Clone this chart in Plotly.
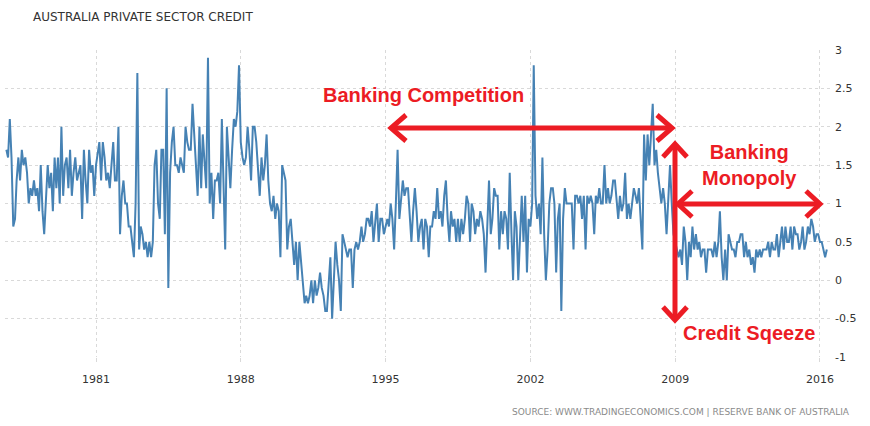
import pandas as pd
import plotly.graph_objects as go

# Monthly private sector credit growth (%)
credit_1976_1985 = [
    1.7, 1.6, 2.1, 1.6,
    0.7, 0.8, 1.3, 1.6, 1.3, 1.7, 1.5, 1.6, 1.4, 1.0, 1.2, 1.1,
    1.3, 1.1, 1.2, 0.9, 1.5, 0.9, 0.6, 1.0, 1.5, 1.2, 1.4, 0.9,
    1.6, 1.2, 1.6, 1.0, 2.0, 1.1, 1.5, 1.6, 1.2, 1.7, 1.1, 1.4,
    1.6, 1.3, 1.4, 1.5, 0.8, 1.7, 1.3, 1.0, 1.7, 1.4, 1.5, 1.1,
    1.5, 1.7, 1.8, 1.3, 1.8, 1.6, 1.3, 1.4, 1.2, 1.5, 1.8, 1.3,
    1.3, 2.0, 0.6, 1.1, 1.3, 1.0, 1.0, 0.7, 0.7, 0.5, 0.3, 1.0,
    2.7, 0.4, 0.7, 0.6, 0.4, 0.5, 0.3, 0.5, 0.3, 0.5, 1.5, 1.7,
    1.0, 0.8, 1.7, 1.7, 0.6, 2.5, -0.1, 1.4, 1.8, 2.0, 1.5, 1.5,
    1.4, 1.6, 1.5, 1.4, 2.0, 1.8, 1.7, 1.7, 2.3, 1.9, 1.5, 1.1,
]
credit_1986_1995 = [
    2.0, 1.2, 1.9, 1.5, 1.2, 2.9, 1.0, 1.4, 0.8, 1.3, 1.3, 1.4,
    1.0, 2.1, 1.2, 0.4, 2.0, 1.6, 1.2, 1.7, 2.1, 2.0, 2.2, 2.8,
    1.8, 1.6, 1.5, 1.6, 2.0, 1.7, 1.3, 2.0, 2.0, 1.8, 1.5, 1.1,
    1.6, 1.3, 1.5, 1.9, 1.3, 1.0, 0.9, 1.1, 0.8, 1.0, 0.9, 0.3,
    1.5, 1.4, 1.3, 0.4, 0.7, 0.8, 0.5, 0.2, 0.5, 0.0, 0.5, 0.2,
    -0.1, -0.3, -0.2, -0.3, -0.2, 0.0, -0.3, 0.0, -0.2, -0.1, 0.1, -0.1,
    -0.2, -0.4, -0.4, -0.1, 0.3, -0.5, 0.1, 0.5, 0.2, 0.0, -0.4, 0.6,
    0.5, 0.4, 0.3, 0.4, 0.4, -0.1, 0.4, 0.5, 0.4, 0.5, 0.7, 0.5,
    0.6, 0.8, 0.8, 0.7, 0.9, 0.5, 0.8, 1.0, 0.5, 0.8, 0.8, 0.6,
    0.7, 0.8, 0.7, 1.0, 0.8, 0.4, 1.0, 1.7, 0.8, 1.1, 1.3, 1.1,
]
credit_1996_2005 = [
    1.2, 1.2, 0.9, 0.5, 0.9, 1.2, 0.9, 0.5, 0.7, 0.8, 0.4, 0.8,
    0.7, 0.3, 0.7, 0.7, 0.9, 0.8, 1.2, 0.8, 0.9, 0.7, 1.1, 1.3,
    0.8, 0.5, 0.9, 0.7, 0.8, 0.5, 0.8, 0.5, 0.8, 0.6, 0.8, 1.1,
    1.0, 0.5, 1.0, 0.9, 0.6, 0.8, 0.7, 0.9, 0.8, 0.6, 0.1, 0.8,
    1.3, 0.6, 0.8, 1.2, 1.1, 1.1, 0.4, 0.9, 0.6, 0.9, 0.8, 0.4,
    1.4, 0.6, 0.0, 0.9, 0.7, 0.0, 0.6, 1.1, 0.5, 1.1, 0.1, 0.8,
    0.7, 1.0, 2.8, 1.1, 0.8, 1.0, 0.6, 1.6, 0.6, 0.0, 0.4, 1.0,
    1.2, 1.2, 1.0, 0.1, 0.8, 1.0, -0.4, 0.8, 1.2, 1.0, 1.0, 1.0,
    1.0, 0.4, 1.1, 1.1, 1.0, 1.1, 0.8, 1.1, 0.4, 1.1, 1.0, 1.1,
    1.0, 0.6, 1.1, 1.0, 1.2, 1.0, 1.0, 1.5, 1.0, 1.2, 1.0, 1.1,
]
credit_2006_2016 = [
    1.3, 1.3, 1.1, 0.8, 1.1, 0.9, 1.0, 1.4, 0.8, 1.0, 0.8, 1.0,
    1.2, 1.1, 1.0, 1.2, 0.8, 0.4, 1.9, 1.3, 1.9, 1.5, 1.9, 2.3,
    1.5, 1.7, 1.4, 1.2, 1.0, 1.2, 1.0, 0.6, 1.0, 1.5, 1.0, 0.6,
    0.5, 0.4, 0.3, 0.4, 0.2, 0.7, 0.5, 0.0, 0.5, 0.3, 0.7, 0.4,
    0.6, 0.4, 0.5, 0.3, 0.4, 0.4, 0.1, 0.4, 0.4, 0.4, 0.3, 0.5,
    0.3, 0.5, 0.9, 0.3, 0.0, 0.4, 0.0, 0.6, 0.5, 0.4, 0.4, 0.3,
    0.5, 0.5, 0.6, 0.6, 0.3, 0.5, 0.3, 0.4, 0.2, 0.3, 0.1, 0.4,
    0.3, 0.4, 0.3, 0.4, 0.4, 0.4, 0.5, 0.3, 0.5, 0.4, 0.4, 0.6,
    0.3, 0.5, 0.7, 0.4, 0.7, 0.5, 0.5, 0.7, 0.4, 0.7, 0.6, 0.6,
    0.4, 0.5, 0.7, 0.4, 0.5, 0.7, 0.6, 0.8, 0.7, 0.5, 0.6, 0.6,
    0.5, 0.5, 0.4, 0.3, 0.4,
]
first_month = "1976-09-01"

x_tick_years = ["1981", "1988", "1995", "2002", "2009", "2016"]
y_tick_vals = [-1, -0.5, 0, 0.5, 1, 1.5, 2, 2.5, 3]
y_tick_text = ["-1", "-0.5", "0", "0.5", "1", "1.5", "2", "2.5", "3"]

values = credit_1976_1985 + credit_1986_1995 + credit_1996_2005 + credit_2006_2016
dates = pd.date_range(first_month, periods=len(values), freq="MS")

RED = "#ec1c24"
W, H = 870, 426
L, R, T, B = 5, 40, 50, 69
PW, PH = W - L - R, H - T - B


def px(xp):
    return (xp - L) / PW


def py(yp):
    return (H - B - yp) / PH


def poly(points):
    return "M " + " L ".join(f"{px(a):.5f},{py(b):.5f}" for a, b in points)


fig = go.Figure()
fig.add_trace(go.Scatter(
    x=dates, y=values, mode="lines",
    line=dict(color="#4682b4", width=2),
    hoverinfo="x+y", showlegend=False,
))

arrow_paths = [
    [(392, 128), (670, 128)],
    [(406, 115), (391, 128), (406, 141)],
    [(657, 115), (672, 128), (657, 141)],
    [(675, 146), (675, 318)],
    [(663, 157), (675, 144), (687, 157)],
    [(663, 307), (675, 320), (687, 307)],
    [(678, 204), (818, 204)],
    [(692, 191), (678, 204), (692, 217)],
    [(806, 191), (820, 204), (806, 217)],
]
shapes = [
    dict(type="path", xref="paper", yref="paper", path=poly(p),
         line=dict(color=RED, width=5))
    for p in arrow_paths
]

texts = [
    ("<b>Banking Competition</b>", 423, 95),
    ("<b>Banking<br>Monopoly</b>", 749, 165),
    ("<b>Credit Sqeeze</b>", 749, 333),
]
annotations = [
    dict(text=t, xref="paper", yref="paper", x=px(a), y=py(b),
         xanchor="center", yanchor="middle", showarrow=False,
         font=dict(family="Liberation Sans", size=20, color=RED))
    for t, a, b in texts
]
annotations.append(dict(
    text="SOURCE: WWW.TRADINGECONOMICS.COM | RESERVE BANK OF AUSTRALIA",
    xref="paper", yref="paper", x=px(852), y=py(412),
    xanchor="right", yanchor="middle", showarrow=False,
    font=dict(family="DejaVu Sans", size=9, color="#8a8a8a"),
))

fig.update_layout(
    width=W, height=H,
    margin=dict(l=L, r=R, t=T, b=B),
    paper_bgcolor="white", plot_bgcolor="white",
    title=dict(text="AUSTRALIA PRIVATE SECTOR CREDIT", x=33 / W, xanchor="left",
               y=1 - 17 / H, yanchor="middle",
               font=dict(family="DejaVu Sans", size=12, color="#333333")),
    shapes=shapes,
    annotations=annotations,
    xaxis=dict(
        type="date",
        range=["1976-08-08", "2016-06-26"],
        tickvals=[f"{y}-01-01" for y in x_tick_years],
        ticktext=x_tick_years,
        showgrid=True, gridcolor="#d9d9d9", griddash="dot", gridwidth=1,
        ticks="outside", ticklen=4, tickcolor="#d9d9d9",
        ticklabelstandoff=8,
        tickfont=dict(family="DejaVu Sans", size=11, color="#333333"),
        showline=False, zeroline=False,
    ),
    yaxis=dict(
        side="right",
        range=[-1, 3],
        tickvals=y_tick_vals, ticktext=y_tick_text,
        showgrid=True, gridcolor="#d9d9d9", griddash="dot", gridwidth=1,
        ticks="", ticklabelstandoff=4,
        tickfont=dict(family="DejaVu Sans", size=11, color="#333333"),
        showline=False, zeroline=False,
    ),
)

fig.write_html(
    "out.html",
    config={"displayModeBar": False},
    post_script="document.body.style.margin='0';document.body.style.padding='0';",
)
